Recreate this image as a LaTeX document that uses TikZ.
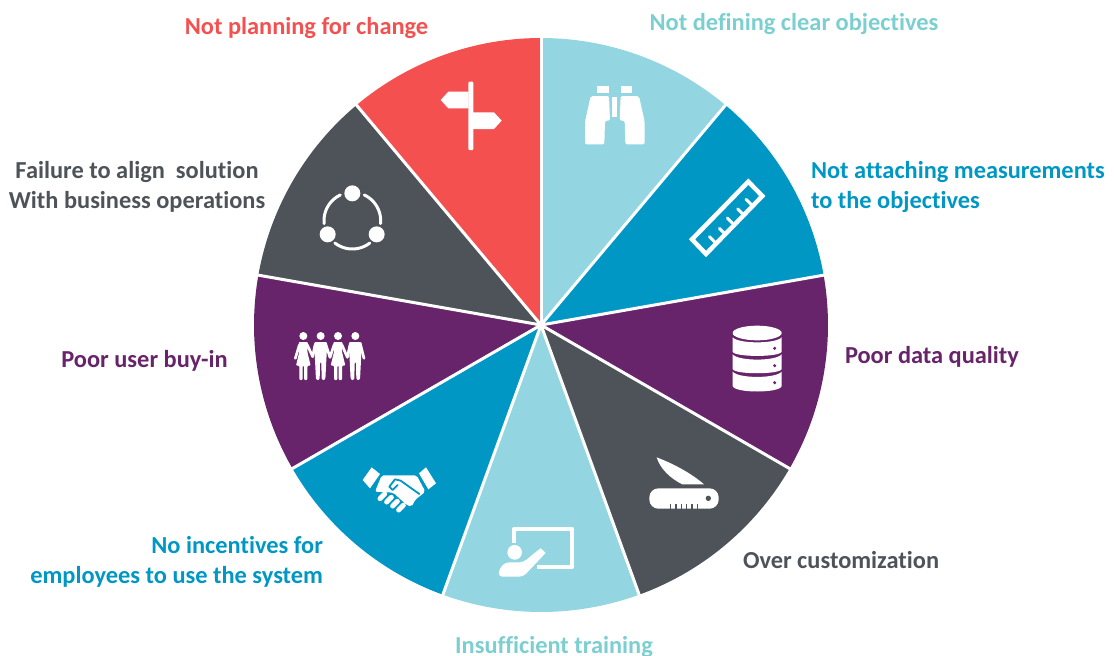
\documentclass[tikz,border=0pt]{standalone}
\usepackage{fontspec}
\setmainfont[Ligatures=NoCommon]{Carlito}
\definecolor{cred}{HTML}{F45050}
\definecolor{clight}{HTML}{93D6E1}
\definecolor{cblue}{HTML}{0097C4}
\definecolor{cpurple}{HTML}{68246B}
\definecolor{cgray}{HTML}{4D5359}
\definecolor{cteal}{HTML}{7CCFD0}
\tikzset{
  lab/.style={font=\fontsize{24.4}{30}\selectfont\bfseries,inner sep=0pt,outer sep=0pt},
  ic/.style={fill=white,draw=none},
  zoomed/.style={shift={#1},scale=1/3}
}
\newcommand{\maleicon}[1]{%
  \fill[ic] (#1,498) circle (12);
  \fill[ic,rounded corners=2pt] (#1-20,516) -- (#1+20,516) -- (#1+17,570) -- (#1+14,630) -- (#1+3,630) -- (#1+2,575) -- (#1-2,575) -- (#1-3,630) -- (#1-14,630) -- (#1-17,570) -- cycle;
}
\newcommand{\femaleicon}[1]{%
  \fill[ic] (#1,498) circle (12);
  \fill[ic,rounded corners=1pt] (#1-14,516) -- (#1+14,516) -- (#1+12,545) -- (#1+22,587) -- (#1+12,587) -- (#1+12,630) -- (#1+2,630) -- (#1+2,587) -- (#1-2,587) -- (#1-2,630) -- (#1-12,630) -- (#1-12,587) -- (#1-22,587) -- (#1-12,545) -- cycle;
}
\begin{document}
\begin{tikzpicture}[x=1pt,y=-1pt]
\useasboundingbox (0,0) rectangle (1114,656);
% wheel
\foreach \a/\c in {90/cred,130/cgray,170/cpurple,210/cblue,250/clight,290/cgray,330/cpurple,10/cblue,50/clight}{
  \pgfmathsetmacro{\b}{\a+40}
  \fill[\c] (541,325) -- plot[domain=\a:\b,samples=40] ({541+287*cos(\x)},{325-287*sin(\x)}) -- cycle;
}
\foreach \a in {90,130,170,210,250,290,330,10,50}{
  \draw[white,line width=3pt] (541,325) -- ({541+289*cos(\a)},{325-289*sin(\a)});
}
% signpost
\begin{scope}[zoomed={(420,60)}]
  \fill[ic,rounded corners=1pt] (145,65) -- (160,65) -- (160,270) -- (145,270) -- cycle;
  \fill[ic] (146,95) -- (85,95) -- (62,120) -- (85,145) -- (146,145) -- cycle;
  \fill[ic] (159,157) -- (222,157) -- (245,182) -- (222,207) -- (159,207) -- cycle;
  % binoculars
  \fill[ic] (532,78) rectangle (566,100);
  \fill[ic] (602,78) rectangle (636,100);
  \fill[ic] (577,110) rectangle (592,172);
  \fill[ic,rounded corners=2pt] (512,108) -- (567,108) -- (570,182) -- (555,182) -- (553,253) -- (495,253) -- (495,185) -- cycle;
  \fill[ic,rounded corners=2pt] (657,108) -- (602,108) -- (599,182) -- (614,182) -- (616,253) -- (674,253) -- (674,185) -- cycle;
\end{scope}
% ruler and database
\begin{scope}[zoomed={(670,160)}]
  \draw[white,line width=4.5pt,line join=miter] (235,65) -- (277,108) -- (108,282) -- (66,238) -- cycle;
  \foreach \p/\q in {118/230,148/205,172/174,203/147,228/118}{
    \draw[white,line width=3pt,line cap=round] (\p,\q) -- ++(16,16);
  }
  \fill[ic] (261.5,519) ellipse [x radius=73.5,y radius=22];
  \fill[ic] (188,532) .. controls (205,552) and (318,552) .. (335,532) -- (335,575) .. controls (330,592) and (193,592) .. (188,575) -- cycle;
  \fill[ic] (188,583) .. controls (205,604) and (318,604) .. (335,583) -- (335,627) .. controls (330,644) and (193,644) .. (188,627) -- cycle;
  \fill[ic] (188,635) .. controls (205,656) and (318,656) .. (335,635) -- (335,678) .. controls (330,700) and (193,700) .. (188,678) -- cycle;
  \foreach \y in {565,617,668}{ \fill[cpurple] (314,\y) circle (5); }
\end{scope}
% knife and presentation
\begin{scope}[zoomed={(480,450)}]
  \fill[ic] (530,22) .. controls (590,45) and (640,75) .. (672,103) -- (607,103) .. controls (570,85) and (540,55) .. cycle;
  \fill[ic,rounded corners=9pt] (508,115) rectangle (716,176);
  \fill[cgray] (685,145) circle (8);
  \foreach \x in {570,586,602,618,634,650}{ \fill[cgray] (\x,161) rectangle (\x+4,176); }
  \draw[white,line width=4pt,line join=round] (102,278) -- (102,237) -- (277,237) -- (277,350) -- (172,350);
  \fill[ic] (104,307) circle (22);
  \fill[ic,rounded corners=4pt] (55,380) .. controls (58,350) and (75,338) .. (95,337) -- (130,337) -- (172,302) .. controls (182,295) and (198,308) .. (188,318) -- (130,380) -- cycle;
\end{scope}
% share circle and people
\begin{scope}[zoomed={(280,170)}]
  \foreach \cx/\cy in {217/70,143/193,290/193}{ \fill[ic] (\cx,\cy) circle (24); }
  \foreach \s/\e in {174/245,295/366,52/128}{
    \draw[white,line width=3pt,line cap=round] plot[domain=\s:\e,samples=30] ({217+85*cos(\x)},{152+85*sin(\x)});
  }
  \femaleicon{70}
  \maleicon{122}
  \femaleicon{174}
  \maleicon{226}
  \draw[white,line width=2.7pt,line cap=round,line join=round] (58,525) -- (46,565) (82,525) -- (98,560) -- (105,525) (138,525) -- (150,562) -- (162,525) (186,525) -- (202,562) -- (210,525) (242,525) -- (252,565);
\end{scope}
% handshake
\begin{scope}[zoomed={(350,450)}]
  \fill[ic] (38,90) -- (65,52) -- (90,72) -- (60,115) -- cycle;
  \fill[ic] (207,70) -- (228,52) -- (258,100) -- (235,118) -- cycle;
  \fill[ic,rounded corners=2pt] (95,76) -- (200,76) -- (226,125) -- (195,150) -- (185,170) -- (170,165) -- (130,128) -- (75,125) -- cycle;
  \draw[cblue,line width=1.8pt,line join=round,line cap=round] (208,132) -- (152,92) -- (135,88) -- (118,110) -- (128,120) -- (143,105);
  \foreach \p/\q in {90/146,110/156,128/168,146/180}{
    \draw[white,line width=5pt,line cap=round] (\p,\q) -- ++(14,-14);
  }
\end{scope}
% labels
\node[lab,text=cred,anchor=center] (t1) at (306.5,28) {Not planning for change};
\node[lab,text=cteal,anchor=center] (t2) at (794,24) {Not defining clear objectives};
\node[lab,text=cblue,anchor=west,align=left] (t3) at (811,187) {Not attaching measurements\\to the objectives};
\node[lab,text=cpurple,anchor=west] (t4) at (845,357) {Poor data quality};
\node[lab,text=cgray,anchor=west] (t5) at (743,560) {Over customization};
\node[lab,text=cteal,anchor=center] (t6) at (554,647) {Insufficient training};
\node[lab,text=cblue,anchor=east,align=right] (t7) at (323,562) {No incentives for\\employees to use the system};
\node[lab,text=cpurple,anchor=center] (t8) at (144.5,361) {Poor user buy-in};
\node[lab,text=cgray,anchor=center,align=center] (t9) at (137,187) {Failure to align \ solution\\With business operations};
\end{tikzpicture}
\end{document}
